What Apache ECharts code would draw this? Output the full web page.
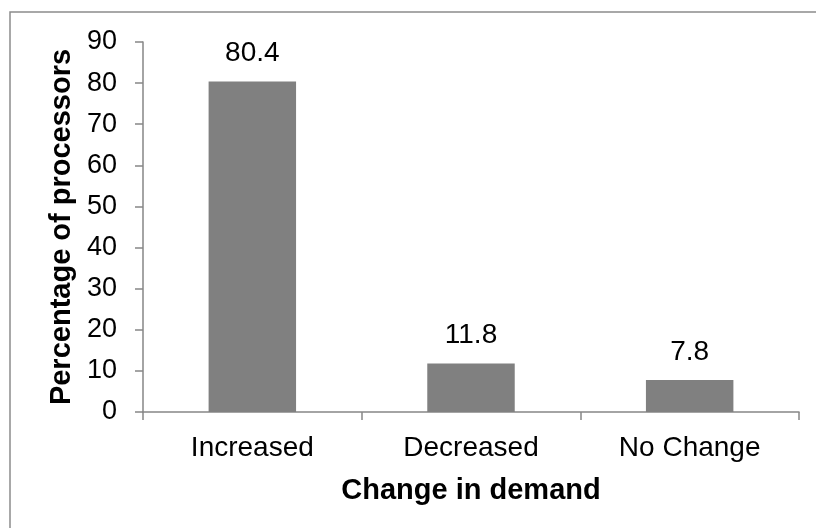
<!DOCTYPE html>
<html>
<head>
<meta charset="utf-8">
<script src="https://cdn.jsdelivr.net/npm/echarts@6/dist/echarts.min.js"></script>
<style>
html,body{margin:0;padding:0;background:#fff;}
#c{width:816px;height:528px;}
</style>
</head>
<body>
<div id="c"></div>
<script>
const categories = ['Increased', 'Decreased', 'No Change'];
const values = [80.4, 11.8, 7.8];
const yTicks = { min: 0, max: 90, interval: 10 };
const xName = 'Change in demand';
const yName = 'Percentage of processors';

const FONT = '"Liberation Sans", Arial, sans-serif';
const chart = echarts.init(document.getElementById('c'));
chart.setOption({
  backgroundColor: '#fff',
  animation: false,
  graphic: [{
    type: 'rect',
    shape: { x: 10, y: 12, width: 830, height: 540 },
    style: { fill: 'none', stroke: '#8c8c8c', lineWidth: 1.5 },
    silent: true
  }],
  grid: { left: 143, right: 17, top: 42, bottom: 116 },
  xAxis: {
    type: 'category',
    data: categories,
    name: xName,
    nameLocation: 'middle',
    nameGap: 64,
    nameTextStyle: { fontFamily: FONT, fontSize: 29, fontWeight: 'bold', color: '#000' },
    axisLine: { lineStyle: { color: '#868686', width: 1.5 } },
    axisTick: { show: true, length: 8, lineStyle: { color: '#868686', width: 1.5 } },
    axisLabel: { fontFamily: FONT, fontSize: 28, color: '#000', margin: 22 }
  },
  yAxis: {
    type: 'value',
    min: yTicks.min, max: yTicks.max, interval: yTicks.interval,
    name: yName,
    nameLocation: 'middle',
    nameGap: 66,
    nameTextStyle: { fontFamily: FONT, fontSize: 29, fontWeight: 'bold', color: '#000' },
    axisLine: { show: true, lineStyle: { color: '#868686', width: 1.5 } },
    axisTick: { show: true, length: 8, lineStyle: { color: '#868686', width: 1.5 } },
    splitLine: { show: false },
    axisLabel: { fontFamily: FONT, fontSize: 27, color: '#000', margin: 26 }
  },
  series: [{
    type: 'bar',
    data: values,
    barCategoryGap: '60%',
    itemStyle: { color: '#808080' },
    label: {
      show: true, position: 'top', distance: 14,
      fontFamily: FONT, fontSize: 28, color: '#000',
      formatter: p => p.value.toFixed(1)
    }
  }]
});
</script>
</body>
</html>
